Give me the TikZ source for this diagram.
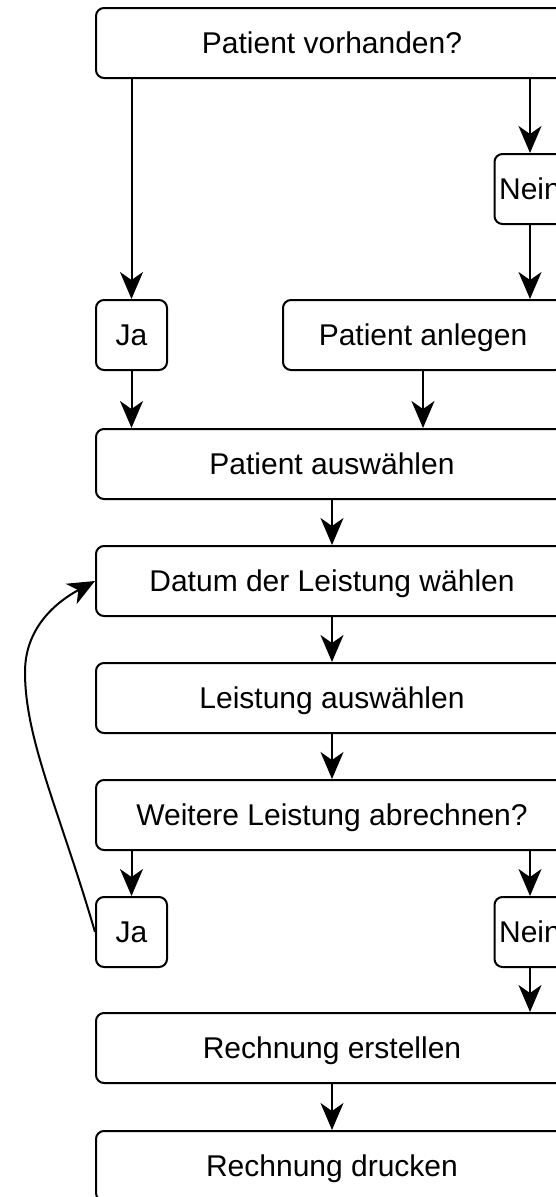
\documentclass[tikz,border=0pt]{standalone}
\usepackage{fontspec}
\setmainfont{Liberation Sans}
\usetikzlibrary{arrows.meta}
\begin{document}
\begin{tikzpicture}[x=1pt,y=-1pt,
  box/.style={draw, line width=2pt, rounded corners=8pt, minimum height=70pt,
    inner sep=0pt, font=\fontsize{30}{36}\selectfont, text height=21.5pt,
    text depth=0pt, fill=white},
  wide/.style={box, minimum width=472pt},
  small/.style={box, minimum width=71pt},
  arr/.style={line width=2pt, -{Stealth[length=27pt,width=23pt,inset=8pt]}}]
\useasboundingbox (0,0) rectangle (556,1197);
\clip (0,0) rectangle (556,1197);

\node[wide] (top) at (332,43) {Patient vorhanden?};
\node[small] (nein1) at (530,189) {Nein};
\node[small] (ja1) at (131.5,335) {Ja};
\node[box, minimum width=280pt] (anlegen) at (423,335) {Patient anlegen};
\node[wide] (ausw) at (332,464) {Patient auswählen};
\node[wide] (datum) at (332,581) {Datum der Leistung wählen};
\node[wide] (leist) at (332,698) {Leistung auswählen};
\node[wide] (weitere) at (332,815) {Weitere Leistung abrechnen?};
\node[small] (ja2) at (131.5,932) {Ja};
\node[small] (nein2) at (530,932) {Nein};
\node[wide] (rerst) at (332,1048) {Rechnung erstellen};
\node[wide] (rdruck) at (332,1166) {Rechnung drucken};

\draw[arr] (top.south -| ja1) -- (ja1.north);
\draw[arr] (top.south -| nein1) -- (nein1.north);
\draw[arr] (nein1.south) -- (anlegen.north -| nein1);
\draw[arr] (ja1.south) -- (ausw.north -| ja1);
\draw[arr] (anlegen.south) -- (ausw.north -| anlegen);
\draw[arr] (ausw.south) -- (datum.north);
\draw[arr] (datum.south) -- (leist.north);
\draw[arr] (leist.south) -- (weitere.north);
\draw[arr] (weitere.south -| ja2) -- (ja2.north);
\draw[arr] (weitere.south -| nein2) -- (nein2.north);
\draw[arr] (nein2.south) -- (rerst.north -| nein2);
\draw[arr] (rerst.south) -- (rdruck.north);

\coordinate (loopbend) at (25,672);
\draw[arr] (ja2.west) .. controls (60,812) and (25,740) .. (loopbend)
  .. controls (25,625) and (60,600) .. (datum.west);
\end{tikzpicture}
\end{document}
